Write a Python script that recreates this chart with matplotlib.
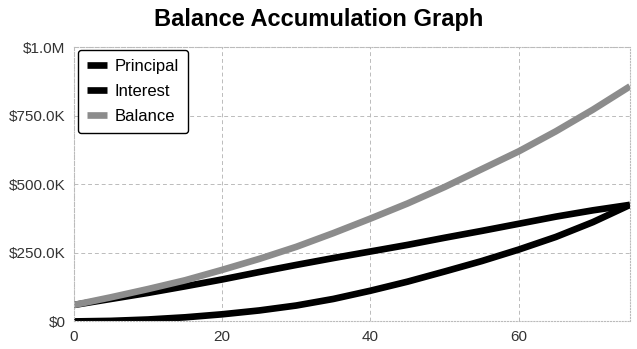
import numpy as np
import matplotlib
matplotlib.use('Agg')
import matplotlib.pyplot as plt

# annees et montants (en milliers de dollars)
years = [0, 5, 10, 15, 20, 25, 30, 35, 40, 45, 50, 55, 60, 65, 70, 75]
principal = [60, 82, 104, 128, 153, 180, 206, 231, 255, 279, 305, 330, 356, 382, 405, 425]
interest = [0, 2, 7, 15, 26, 40, 58, 82, 112, 145, 182, 220, 262, 308, 362, 425]
balance = [60, 88, 118, 150, 188, 228, 272, 322, 375, 430, 490, 555, 620, 693, 772, 857]

y_ticks = [0, 250, 500, 750, 1000]
y_labels = ['$0', '$250.0K', '$500.0K', '$750.0K', '$1.0M']
x_ticks = [0, 20, 40, 60]

plt.rcParams['font.family'] = ['Liberation Sans', 'DejaVu Sans']

fig = plt.figure(figsize=(6.37, 3.49), dpi=100)
ax = fig.add_axes([0.116, 0.079, 0.873, 0.786])

ax.plot(years, principal, color='black', lw=4.8, label='Principal', solid_capstyle='butt')
ax.plot(years, interest, color='black', lw=4.8, label='Interest', solid_capstyle='butt')
ax.plot(years, balance, color='#8c8c8c', lw=4.8, label='Balance', solid_capstyle='butt')

ax.set_xlim(0, 75)
ax.set_ylim(0, 1000)
ax.set_xticks(x_ticks)
ax.set_yticks(y_ticks)
ax.set_yticklabels(y_labels)
ax.tick_params(length=0, labelsize=11, colors='#333333', pad=6)

ax.grid(True, color='#bbbbbb', linestyle=(0, (4, 3)), lw=0.7)
for s in ax.spines.values():
    s.set_color('#bbbbbb')
    s.set_linestyle(':')
    s.set_linewidth(0.8)

leg = ax.legend(loc='upper left', fontsize=12, frameon=True, fancybox=True,
                handlelength=1.2, handletextpad=0.45, borderpad=0.55,
                labelspacing=0.6, borderaxespad=0, bbox_to_anchor=(0.007, 0.99))
leg.get_frame().set_edgecolor('black')
leg.get_frame().set_linewidth(1.0)
leg.get_frame().set_alpha(1)

fig.text(0.5, 0.943, 'Balance Accumulation Graph', ha='center', va='center',
         fontsize=17, fontweight='bold')

plt.savefig('out.png', dpi=100)
